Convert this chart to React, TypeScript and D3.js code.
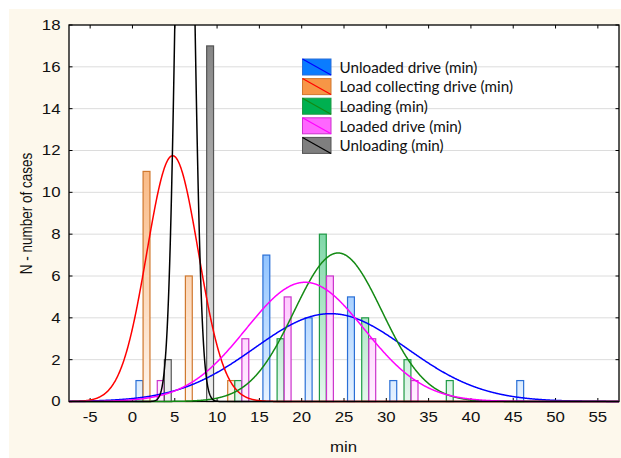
import React from 'react';
import * as d3 from 'd3';

// ---------- data ----------
const seriesNames = [
  'Unloaded drive (min)',
  'Load collecting drive (min)',
  'Loading (min)',
  'Loaded drive (min)',
  'Unloading (min)',
];
const binStarts = [0, 5, 10, 15, 20, 25, 30, 35, 40, 45];
const binWidth = 5;
const unloadedDrive = [1, 0, 0, 7, 4, 5, 1, 0, 0, 1];
const loadCollectingDrive = [11, 6, 1, 0, 0, 0, 0, 0, 0, 0];
const loading = [0, 0, 1, 3, 8, 4, 2, 1, 0, 0];
const loadedDrive = [1, 0, 3, 5, 6, 3, 1, 0, 0, 0];
const unloading = [2, 17, 0, 0, 0, 0, 0, 0, 0, 0];
// fitted normal curves
const fitMean = [23.4, 4.75, 24.3, 20.4, 6.2];
const fitSd = [9.0, 3.05, 5.2, 7.0, 0.95];
const fitPeak = [4.2, 11.75, 7.1, 5.7, 39.9];

const xTicks = [-5, 0, 5, 10, 15, 20, 25, 30, 35, 40, 45, 50, 55];
const yTicks = [0, 2, 4, 6, 8, 10, 12, 14, 16, 18];
const xTitle = 'min';
const yTitle = 'N - number of cases';

// ---------- styles ----------
const fillColors = ['#0a7cff', '#f79646', '#00b050', '#ff66ff', '#7f7f7f'];
const edgeColors = ['#2a6fd6', '#d0782e', '#1f9a45', '#cc33cc', '#555555'];
const curveColors = ['#0000ff', '#ff0000', '#138a13', '#ff00ff', '#000000'];

const W = 621;
const H = 458;
const L = 69, R = 619, T = 25, B = 401.5;
const SX = 1.2;
const tickFont = 'Liberation Sans, Arial, sans-serif';

export default function App() {
  const series = [unloadedDrive, loadCollectingDrive, loading, loadedDrive, unloading];
  const x = d3.scaleLinear().domain([-7.5, 57.5]).range([L, R]);
  const y = d3.scaleLinear().domain([0, 18]).range([B, T]);
  const band = d3
    .scaleBand<number>()
    .domain(d3.range(series.length))
    .range([binWidth / 12, binWidth - binWidth / 12])
    .paddingInner(0.03);
  const bwPx = x(band.bandwidth()) - x(0);

  const xs = d3.range(-7.5, 57.51, 0.05);
  const line = d3
    .line<number>()
    .x((d) => x(d))
    .curve(d3.curveLinear);

  return (
    <svg
      width={W}
      height={H}
      style={{ position: 'absolute', left: 0, top: 0 }}
      xmlns="http://www.w3.org/2000/svg"
    >
      <defs>
        <clipPath id="plotClip">
          <rect x={L} y={T} width={R - L} height={B - T + 2} />
        </clipPath>
        {fillColors.map((c, i) => (
          <linearGradient
            key={i}
            id={`grad${i}`}
            gradientUnits="userSpaceOnUse"
            x1={0}
            y1={T}
            x2={0}
            y2={B}
          >
            <stop offset="0" stopColor={c} />
            <stop offset="1" stopColor={d3.interpolateRgb(c, '#ffffff')(0.9)} />
          </linearGradient>
        ))}
      </defs>
      <rect x={0} y={0} width={W} height={H} fill="#ffffff" />
      <rect x={9} y={9} width={W - 9} height={H - 9} fill="#fdf8ec" />
      <rect x={L} y={T} width={R - L} height={B - T} fill="#ffffff" />

      {/* grid */}
      {yTicks.slice(1, -1).map((t) => (
        <line key={t} x1={L} x2={R} y1={y(t)} y2={y(t)} stroke="#dcdcdc" strokeWidth={1} />
      ))}

      {/* legend */}
      {seriesNames.map((name, i) => {
        const ly = 59 + i * 19.6;
        return (
          <g key={name}>
            <rect x={302.5} y={ly} width={28.5} height={16} fill={fillColors[i]} stroke={edgeColors[i]} strokeWidth={1} />
            <line x1={302.5} y1={ly} x2={331} y2={ly + 16} stroke={curveColors[i]} strokeWidth={1.2} />
            <text
              transform={`translate(339.5,${ly + 8}) scale(1.05,1)`}
              dominantBaseline="central"
              fontFamily="Lato, 'Open Sans', sans-serif"
              fontSize={14.5}
              fill="#111"
            >
              {name}
            </text>
          </g>
        );
      })}

      {/* bars */}
      <g clipPath="url(#plotClip)">
        {series.map((vals, si) =>
          vals.map((v, bi) =>
            v > 0 ? (
              <rect
                key={`${si}-${bi}`}
                x={x(binStarts[bi] + (band(si) as number))}
                y={y(v)}
                width={bwPx}
                height={y(0) - y(v)}
                fill={`url(#grad${si})`}
                stroke={edgeColors[si]}
                strokeWidth={1.2}
              />
            ) : null
          )
        )}
      </g>

      {/* frame */}
      <rect x={L} y={T} width={R - L} height={B - T} fill="none" stroke="#000" strokeWidth={1.3} />
      {xTicks.map((t) => (
        <g key={t}>
          <line x1={x(t)} x2={x(t)} y1={B} y2={B - 3.5} stroke="#000" />
          <line x1={x(t)} x2={x(t)} y1={T} y2={T + 3.5} stroke="#000" />
        </g>
      ))}
      {yTicks.map((t) => (
        <g key={t}>
          <line x1={L} x2={L + 3.5} y1={y(t)} y2={y(t)} stroke="#000" />
          <line x1={R} x2={R - 3.5} y1={y(t)} y2={y(t)} stroke="#000" />
        </g>
      ))}

      {/* fitted curves */}
      <g clipPath="url(#plotClip)">
        {series.map((_, si) => (
          <path
            key={si}
            d={
              line.y((d) =>
                y(fitPeak[si] * Math.exp(-((d - fitMean[si]) ** 2) / (2 * fitSd[si] ** 2)))
              )(xs) as string
            }
            fill="none"
            stroke={curveColors[si]}
            strokeWidth={1.5}
          />
        ))}
      </g>

      {/* tick labels */}
      {xTicks.map((t) => (
        <text
          key={t}
          transform={`translate(${x(t)},421.5) scale(${SX},1)`}
          textAnchor="middle"
          fontFamily={tickFont}
          fontSize={14}
          fill="#111"
        >
          {t}
        </text>
      ))}
      {yTicks.map((t) => (
        <text
          key={t}
          transform={`translate(60.5,${y(t)}) scale(${SX},1)`}
          textAnchor="end"
          dominantBaseline="central"
          fontFamily={tickFont}
          fontSize={14}
          fill="#111"
        >
          {t}
        </text>
      ))}

      {/* axis titles */}
      <text
        transform={`translate(343.5,452) scale(${SX},1)`}
        textAnchor="middle"
        fontFamily={tickFont}
        fontSize={14}
        fill="#111"
      >
        {xTitle}
      </text>
      <text
        transform={`translate(31.5,213.5) scale(${SX},1) rotate(-90)`}
        textAnchor="middle"
        fontFamily={tickFont}
        fontSize={13.5}
        fill="#111"
      >
        {yTitle}
      </text>
    </svg>
  );
}
